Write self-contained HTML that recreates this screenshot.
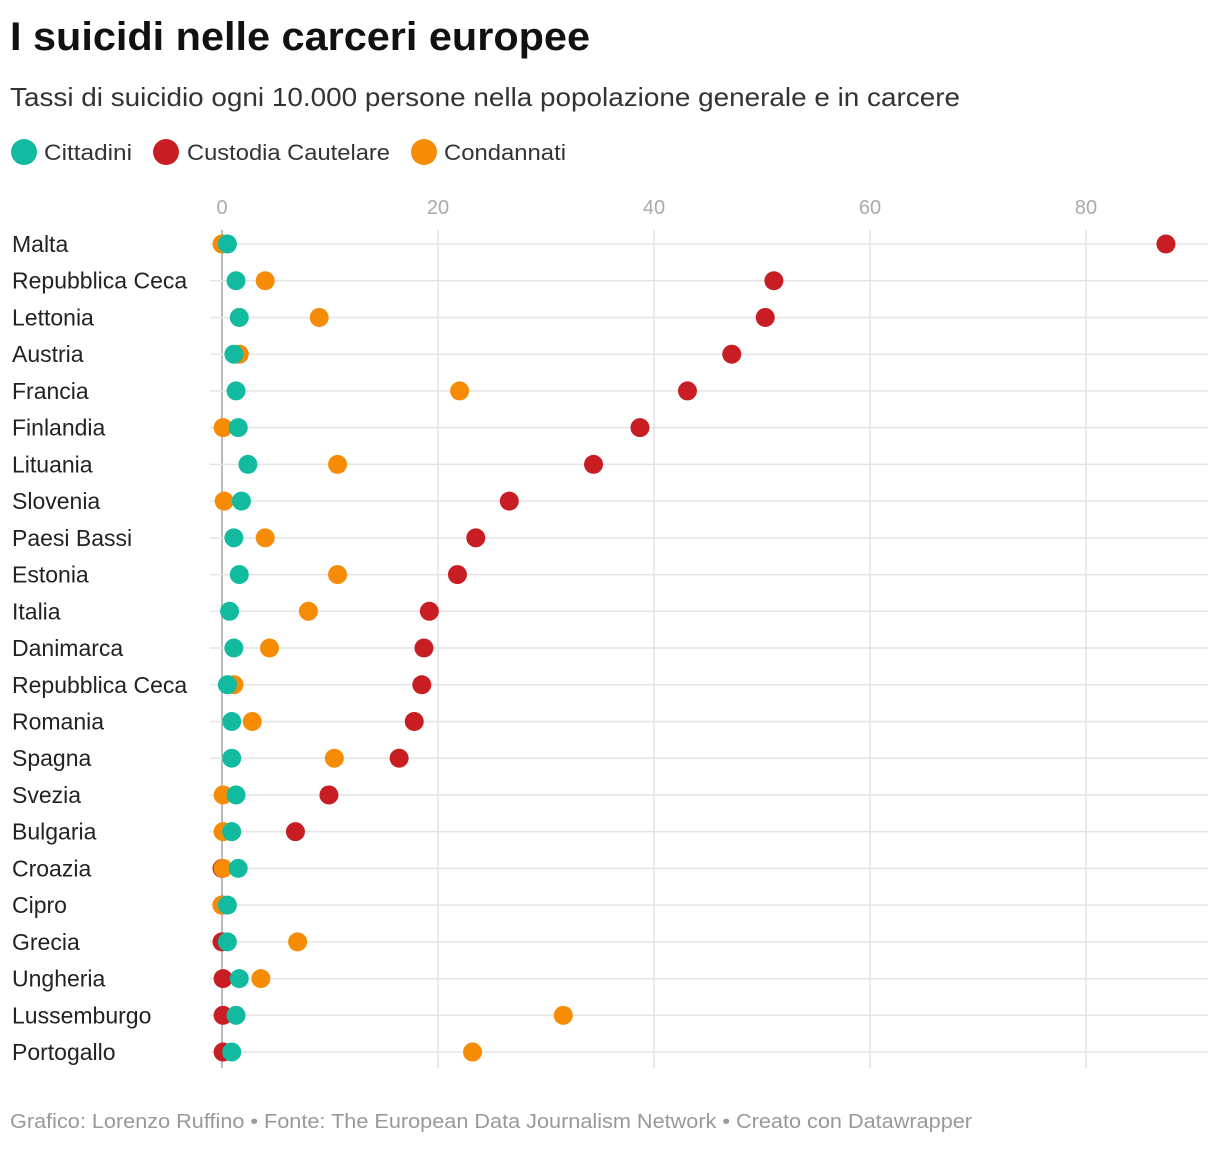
<!DOCTYPE html>
<html><head><meta charset="utf-8"><style>
body{margin:0;background:#fff;font-family:"Liberation Sans",sans-serif;}
svg text{font-family:"Liberation Sans",sans-serif;}
</style></head><body>
<svg width="1220" height="1144" viewBox="0 0 1220 1144">
<text x="10" y="50" font-size="40" font-weight="bold" fill="#111" textLength="580" lengthAdjust="spacingAndGlyphs">I suicidi nelle carceri europee</text>
<text x="10" y="106" font-size="26" fill="#333" textLength="950" lengthAdjust="spacingAndGlyphs">Tassi di suicidio ogni 10.000 persone nella popolazione generale e in carcere</text>
<g>
<circle cx="24" cy="152" r="13" fill="#12bba0"/>
<text x="44" y="160" font-size="22" fill="#333" textLength="88" lengthAdjust="spacingAndGlyphs">Cittadini</text>
<circle cx="166" cy="152" r="13" fill="#c81e23"/>
<text x="187" y="160" font-size="22" fill="#333" textLength="203" lengthAdjust="spacingAndGlyphs">Custodia Cautelare</text>
<circle cx="424" cy="152" r="13" fill="#f68c06"/>
<text x="444" y="160" font-size="22" fill="#333" textLength="122" lengthAdjust="spacingAndGlyphs">Condannati</text>
</g>
<g id="plot"></g>
<text x="10" y="1128" font-size="20" fill="#999" textLength="962" lengthAdjust="spacingAndGlyphs">Grafico: Lorenzo Ruffino • Fonte: The European Data Journalism Network • Creato con Datawrapper</text>
</svg>
<script>
const countries=["Malta","Repubblica Ceca","Lettonia","Austria","Francia","Finlandia","Lituania","Slovenia","Paesi Bassi","Estonia","Italia","Danimarca","Repubblica Ceca","Romania","Spagna","Svezia","Bulgaria","Croazia","Cipro","Grecia","Ungheria","Lussemburgo","Portogallo"];
const cittadini=[0.5,1.3,1.6,1.1,1.3,1.5,2.4,1.8,1.1,1.6,0.7,1.1,0.5,0.9,0.9,1.3,0.9,1.5,0.5,0.5,1.6,1.3,0.9];
const custodia=[87.4,51.1,50.3,47.2,43.1,38.7,34.4,26.6,23.5,21.8,19.2,18.7,18.5,17.8,16.4,9.9,6.8,0,0,0,0.1,0.1,0.1];
const condannati=[0,4,9,1.6,22,0.1,10.7,0.2,4,10.7,8,4.4,1.1,2.8,10.4,0.1,0.1,0.1,0,7,3.6,31.6,23.2];
const ticks=[0,20,40,60,80];
const NS="http://www.w3.org/2000/svg";
const g=document.getElementById("plot");
const x=v=>222+v*10.8;
const y=i=>244+i*36.73;
function mk(t,a){const e=document.createElementNS(NS,t);for(const k in a)e.setAttribute(k,a[k]);g.appendChild(e);return e;}
ticks.forEach(t=>{
 const l=mk("line",{x1:x(t),x2:x(t),y1:230,y2:1068,stroke:t===0?"#bbb":"#e4e4e4","stroke-width":t===0?2:1.5});
 
 
 const tx=mk("text",{x:x(t),y:214,"font-size":20,fill:"#aaa","text-anchor":"middle"});
 tx.textContent=t;
 
 
});
countries.forEach((c,i)=>{
 const l=mk("line",{x1:210,x2:1208,y1:y(i),y2:y(i),stroke:"#e4e4e4","stroke-width":1.5});
 
 
 const t=mk("text",{x:12,y:y(i)+8,"font-size":23,fill:"#222"});
 t.textContent=c;
 
 
});
const series=[[custodia,"#c81e23","dot-custodia"],[condannati,"#f68c06","dot-condannati"],[cittadini,"#12bba0","dot-cittadini"]];
series.forEach(([arr,col,name])=>{
 arr.forEach((v,i)=>{
  const d=mk("circle",{cx:x(v),cy:y(i),r:9.5,fill:col});
  
  
 });
});
</script>
</body></html>
